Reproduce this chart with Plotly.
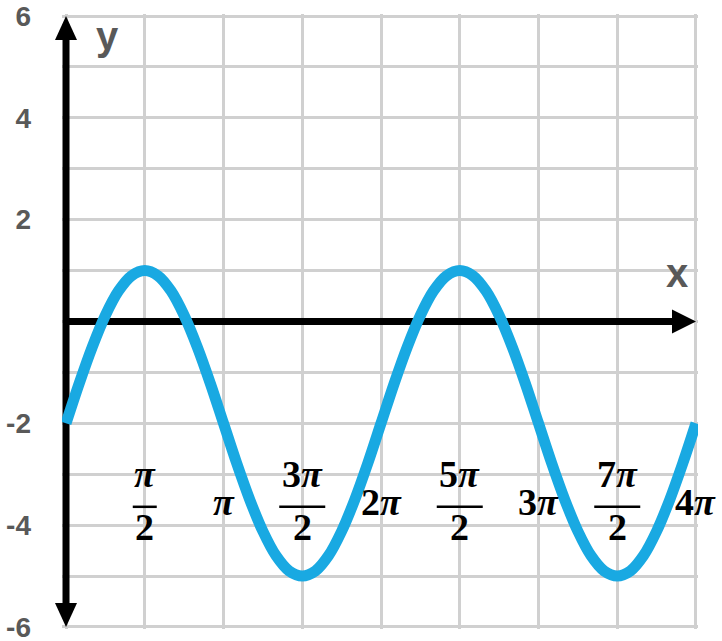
import math
import plotly.graph_objects as go

# ---- data ----
x_over_pi = [0, 1/12, 2/12, 3/12, 4/12, 5/12, 6/12, 7/12, 8/12, 9/12, 10/12, 11/12,
             1, 13/12, 14/12, 15/12, 16/12, 17/12, 18/12, 19/12, 20/12, 21/12, 22/12, 23/12,
             2, 25/12, 26/12, 27/12, 28/12, 29/12, 30/12, 31/12, 32/12, 33/12, 34/12, 35/12,
             3, 37/12, 38/12, 39/12, 40/12, 41/12, 42/12, 43/12, 44/12, 45/12, 46/12, 47/12, 4]
y_values = [-2, -1.22, -0.5, 0.12, 0.6, 0.9, 1, 0.9, 0.6, 0.12, -0.5, -1.22,
            -2, -2.78, -3.5, -4.12, -4.6, -4.9, -5, -4.9, -4.6, -4.12, -3.5, -2.78,
            -2, -1.22, -0.5, 0.12, 0.6, 0.9, 1, 0.9, 0.6, 0.12, -0.5, -1.22,
            -2, -2.78, -3.5, -4.12, -4.6, -4.9, -5, -4.9, -4.6, -4.12, -3.5, -2.78, -2]

x_tick_over_pi = [0.5, 1, 1.5, 2, 2.5, 3, 3.5, 4]
x_tick_labels = ["π/2", "π", "3π/2", "2π", "5π/2", "3π", "7π/2", "4π"]

y_tick_vals = [-6, -5, -4, -3, -2, -1, 0, 1, 2, 3, 4, 5, 6]
y_tick_text = ["-6", "", "-4", "", "-2", "", "", "", "2", "", "4", "", "6"]

PI = math.pi
xs = [v * PI for v in x_over_pi]
X_MIN, X_MAX = 0, 4 * PI
Y_MIN, Y_MAX = -6, 6
PAD = 0.04
x_range = [X_MIN - 2 * PAD, X_MAX + PAD]
y_range = [Y_MIN - PAD, Y_MAX + PAD]
# paper position of x = 0 (where the y axis is drawn)
X0_PAPER = (0 - x_range[0]) / (x_range[1] - x_range[0])

GRAY = "#595959"
GRID = "#D0D0D0"
BLUE = "#19A9E2"

ML, MR, MT, MB = 62, 24, 14, 12
W, H = 722, 641
PW, PH = W - ML - MR, H - MT - MB

fig = go.Figure()
fig.add_trace(go.Scatter(
    x=xs, y=y_values, mode="lines",
    line=dict(color=BLUE, width=11, shape="spline", smoothing=1.0),
    hoverinfo="skip", showlegend=False,
))

shapes = []
# axis shafts (between grid and data)
shapes.append(dict(type="line", layer="between", xref="x", yref="y",
                   x0=0, x1=0, y0=Y_MIN + 0.25, y1=Y_MAX - 0.25,
                   line=dict(color="black", width=7)))
shapes.append(dict(type="line", layer="between", xref="x", yref="y",
                   x0=0, x1=X_MAX - 0.24, y0=0, y1=0,
                   line=dict(color="black", width=7)))
# arrow heads
shapes.append(dict(type="path", layer="above", xref="paper", yref="y",
                   xsizemode="pixel", ysizemode="pixel", xanchor=X0_PAPER, yanchor=Y_MAX,
                   path="M -11,-24 L 11,-24 L 0,0 Z", fillcolor="black",
                   line=dict(width=0)))
shapes.append(dict(type="path", layer="above", xref="paper", yref="y",
                   xsizemode="pixel", ysizemode="pixel", xanchor=X0_PAPER, yanchor=Y_MIN,
                   path="M -11,24 L 11,24 L 0,0 Z", fillcolor="black",
                   line=dict(width=0)))
shapes.append(dict(type="path", layer="above", xref="x", yref="y",
                   xsizemode="pixel", ysizemode="pixel", xanchor=X_MAX, yanchor=0,
                   path="M 0,0 L -24,12 L -24,-12 Z", fillcolor="black",
                   line=dict(width=0)))

annotations = []
LBL_FONT = dict(family="Liberation Serif", size=38, color="black")
Y_NUM, Y_BAR, Y_DEN, Y_SINGLE = -3.0, -3.64, -4.04, -3.55
for m, lab in zip(x_tick_over_pi, x_tick_labels):
    xv = m * PI
    if "/" in lab:
        num, den = lab.split("/")
        numtxt = num.replace("π", "<i>π</i>")
        annotations.append(dict(x=xv, y=Y_NUM, xref="x", yref="y", text="<b>" + numtxt + "</b>",
                                showarrow=False, font=LBL_FONT, xanchor="center", yanchor="middle"))
        annotations.append(dict(x=xv, y=Y_DEN, xref="x", yref="y", text="<b>" + den + "</b>",
                                showarrow=False, font=LBL_FONT, xanchor="center", yanchor="middle"))
        half = 12 if len(num) == 1 else 23
        shapes.append(dict(type="line", layer="above", xref="x", yref="y",
                           xsizemode="pixel", xanchor=xv, x0=-half, x1=half,
                           y0=Y_BAR, y1=Y_BAR, line=dict(color="black", width=2.5)))
    else:
        txt = lab.replace("π", "<i>π</i>")
        annotations.append(dict(x=xv, y=Y_SINGLE, xref="x", yref="y", text="<b>" + txt + "</b>",
                                showarrow=False, font=LBL_FONT, xanchor="center", yanchor="middle"))

AX_FONT = dict(family="Liberation Sans", size=40, color=GRAY, weight=700)
annotations.append(dict(x=(107 - ML) / PW, y=(H - MB - 36) / PH, xref="paper", yref="paper", text="<b>y</b>",
                        showarrow=False, font=AX_FONT, xanchor="center", yanchor="middle"))
annotations.append(dict(x=(677 - ML) / PW, y=(H - MB - 273) / PH, xref="paper", yref="paper", text="<b>x</b>",
                        showarrow=False, font=AX_FONT, xanchor="center", yanchor="middle"))

fig.update_layout(
    width=W, height=H,
    margin=dict(l=ML, r=MR, t=MT, b=MB, autoexpand=False),
    paper_bgcolor="white", plot_bgcolor="white",
    showlegend=False,
    shapes=shapes, annotations=annotations,
    xaxis=dict(range=x_range, tickvals=[m * PI for m in [0] + x_tick_over_pi],
               showticklabels=False, ticks="", showgrid=True, gridcolor=GRID, gridwidth=3,
               zeroline=False, showline=False, fixedrange=True, automargin=False),
    yaxis=dict(range=y_range, tickvals=y_tick_vals, ticktext=y_tick_text,
               showgrid=True, gridcolor=GRID, gridwidth=3, ticks="",
               ticklabelstandoff=30, automargin=False, ticklabeloverflow="allow",
               tickfont=dict(family="Liberation Sans", size=28, color=GRAY, weight=700),
               zeroline=False, showline=False, fixedrange=True),
)

fig.write_html("out.html", config={"displayModeBar": False},
               post_script="document.body.style.margin='0';")
